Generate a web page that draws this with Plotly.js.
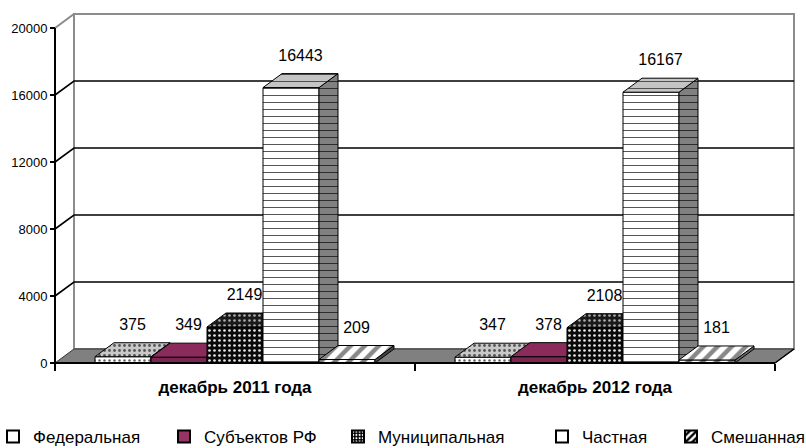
<!DOCTYPE html>
<html>
<head>
<meta charset="utf-8">
<script src="https://cdn.plot.ly/plotly-3.0.1.min.js"></script>
<style>
html,body{margin:0;padding:0;background:#fff;}
#chart{width:806px;height:448px;}
</style>
</head>
<body>
<div id="chart"></div>
<script>
// ---- data ----
const categories = ['декабрь 2011 года', 'декабрь 2012 года'];
const seriesNames = ['Федеральная', 'Субъектов РФ', 'Муниципальная', 'Частная', 'Смешанная'];
const federal = [375, 347];
const subjects = [349, 378];
const municipal = [2149, 2108];
const privateOwn = [16443, 16167];
const mixed = [209, 181];
const yTicks = [0, 4000, 8000, 12000, 16000, 20000];

const seriesValues = [federal, subjects, municipal, privateOwn, mixed];

// ---- styles ----
const styles = [
  { legend: {color: '#ffffff', pattern: {shape: ''}},
    front: {bg: '#ffffff', fg: '#666', shape: '.', size: 5, sol: 0.2},
    top:   {bg: '#c8c8c8', fg: '#555', shape: '.', size: 5, sol: 0.25},
    side:  {bg: '#909090', fg: '#444', shape: '.', size: 5, sol: 0.25} },
  { legend: {color: '#993366', pattern: {shape: ''}},
    front: {bg: '#7b2551'}, top: {bg: '#8a2b5c'}, side: {bg: '#551836'} },
  { legend: {color: '#000', pattern: {shape: '.', fgcolor: '#fff', bgcolor: '#000', size: 4, solidity: 0.35}},
    front: {bg: '#0a0a0a', fg: '#e8e8e8', shape: '.', size: 5, sol: 0.22},
    top:   {bg: '#1a1a1a', fg: '#aaa', shape: '.', size: 5, sol: 0.22},
    side:  {bg: '#111', fg: '#888', shape: '.', size: 5, sol: 0.22} },
  { legend: {color: '#ffffff', pattern: {shape: ''}},
    front: {bg: '#ffffff', fg: '#444', shape: '-', size: 7, sol: 0.13},
    top:   {bg: '#c4c4c4', fg: '#444', shape: '-', size: 7, sol: 0.13},
    side:  {bg: '#808080', fg: '#222', shape: '-', size: 7, sol: 0.13} },
  { legend: {color: '#000', pattern: {shape: '/', fgcolor: '#000', bgcolor: '#fff', size: 6, solidity: 0.5}},
    front: {bg: '#ffffff', fg: '#777', shape: '/', size: 10, sol: 0.45},
    top:   {bg: '#ffffff', fg: '#888', shape: '/', size: 10, sol: 0.45},
    side:  {bg: '#666', fg: '#444', shape: '/', size: 10, sol: 0.45} }
];

// ---- geometry (pixels) ----
const PL = 52, PR = 797, PT = 8, PB = 366;      // plot area
const FL = 55, FR = 775, F0 = 363, FTOP = 28;   // front plane
const DEPTH_X = 19, DEPTH_Y = 14;               // 3d depth offset
const BAR_PX = 56;
const LEGEND_TEXT_PX = [33, 204, 378, 582, 711]; // where each legend entry's text starts

const upx = 2 / (FR - FL);             // category units per px
const upy = 20000 / (F0 - FTOP);       // value units per px
const xr = [-0.5 - (FL - PL) * upx, -0.5 + (PR - FL) * upx];
const yr = [-(PB - F0) * upy, (F0 - PT) * upy];
const DX = DEPTH_X * upx, DY = DEPTH_Y * upy;
const BW = BAR_PX * upx;

const traces = [];
function poly(xs, ys, fill, lineColor, lineWidth) {
  const t = {type: 'scatter', mode: 'lines', x: xs, y: ys, fill: 'toself',
    line: {color: lineColor || '#000', width: lineWidth == null ? 1 : lineWidth},
    showlegend: false, hoverinfo: 'skip', fillcolor: fill.bg};
  if (fill.shape) {
    t.fillpattern = {shape: fill.shape, bgcolor: fill.bg, fgcolor: fill.fg, size: fill.size, solidity: fill.sol};
  }
  return t;
}
function line(xs, ys, color, width) {
  return {type: 'scatter', mode: 'lines', x: xs, y: ys, line: {color: color, width: width},
    showlegend: false, hoverinfo: 'skip'};
}

// back wall
traces.push(poly([-0.5 + DX, 1.5 + DX, 1.5 + DX, -0.5 + DX, -0.5 + DX],
                 [DY, DY, 20000 + DY, 20000 + DY, DY], {bg: '#ffffff'}, '#8c8c8c', 2));
// gridlines on back wall + diagonals
yTicks.forEach(v => {
  if (v === 0) return;
  const c = v === 20000 ? '#8c8c8c' : '#000';
  traces.push(line([-0.5, -0.5 + DX, 1.5 + DX], [v, v + DY, v + DY], c, v === 20000 ? 2 : 1.6));
});
// floor
traces.push(poly([-0.5, 1.5, 1.5 + DX, -0.5 + DX, -0.5], [0, 0, DY, DY, 0], {bg: '#808080'}, '#333', 1));

// bars (left to right, painter's order)
const labelX = [], labelY = [], labelT = [];
categories.forEach((cat, ci) => {
  seriesValues.forEach((vals, si) => {
    const v = vals[ci];
    const xl = ci + (si - 2.5) * BW;
    const xrr = xl + BW;
    const st = styles[si];
    traces.push(poly([xl, xrr, xrr, xl, xl], [0, 0, v, v, 0], st.front));
    traces.push(poly([xrr, xrr + DX, xrr + DX, xrr, xrr], [0, DY, v + DY, v, 0], st.side));
    traces.push(poly([xl, xrr, xrr + DX, xl + DX, xl], [v, v, v + DY, v + DY, v], st.top));
    labelX.push(xl + BW / 2 + DX / 2);
    labelY.push(v + DY + 17 * upy);
    labelT.push(String(v));
  });
});

// front axes lines
traces.push(line([-0.5, -0.5], [0, 20000], '#000', 2));
traces.push(line([-0.5, 1.5], [0, 0], '#000', 2));
// right floor edge
traces.push(line([1.5, 1.5 + DX], [0, DY], '#000', 1.5));

// data labels
traces.push({type: 'scatter', mode: 'text', x: labelX, y: labelY, text: labelT,
  textposition: 'middle center', textfont: {size: 16, color: '#000'},
  showlegend: false, hoverinfo: 'skip', cliponaxis: false});

// legend entries, one legend each so they can be placed like the original
const legendKeys = ['legend', 'legend2', 'legend3', 'legend4', 'legend5'];
seriesNames.forEach((name, si) => {
  const lg = styles[si].legend;
  const marker = {color: lg.color, line: {color: '#000', width: 2}};
  if (lg.pattern.shape) marker.pattern = lg.pattern;
  traces.push({type: 'bar', name: name, x: [10], y: [1], marker: marker, hoverinfo: 'skip',
    legend: legendKeys[si]});
});

const layout = {
  width: 806, height: 448,
  margin: {l: PL, r: 806 - PR, t: PT, b: 448 - PB, pad: 0, autoexpand: false},
  paper_bgcolor: '#fff', plot_bgcolor: '#fff',
  font: {family: 'Liberation Sans, Arial, sans-serif', color: '#000', size: 12},
  showlegend: true,
  barmode: 'group',
  xaxis: {
    range: xr, fixedrange: true, automargin: false,
    tickmode: 'array', tickvals: [0, 1], ticktext: categories.map(c => '<b>' + c + '</b>'),
    ticks: '', showgrid: false, zeroline: false, showline: false,
    tickfont: {size: 17, color: '#000'},
    anchor: 'free', position: (PB - F0) / (PB - PT),
    ticklabelstandoff: 12,
    minor: {tickmode: 'array', tickvals: [-0.5, 0.5, 1.5], ticks: 'outside', ticklen: 7, tickwidth: 1.5, tickcolor: '#000', showgrid: false}
  },
  yaxis: {
    range: yr, fixedrange: true, automargin: false,
    tickmode: 'array', tickvals: yTicks, ticktext: yTicks.map(String),
    ticks: 'outside', ticklen: 5, tickwidth: 1.5, tickcolor: '#000',
    showgrid: false, zeroline: false, showline: false,
    tickfont: {size: 13, color: '#000'},
    anchor: 'free', position: (FL - PL) / (PR - PL)
  }
};
legendKeys.forEach((k, i) => {
  layout[k] = {
    orientation: 'h', x: (LEGEND_TEXT_PX[i] - 40 - PL) / (PR - PL), xanchor: 'left',
    y: -(437 - PB) / (PB - PT), yanchor: 'middle',
    font: {size: 17, color: '#000'}, bgcolor: 'rgba(0,0,0,0)'
  };
});

Plotly.newPlot('chart', traces, layout, {staticPlot: true, displayModeBar: false});
</script>
</body>
</html>
